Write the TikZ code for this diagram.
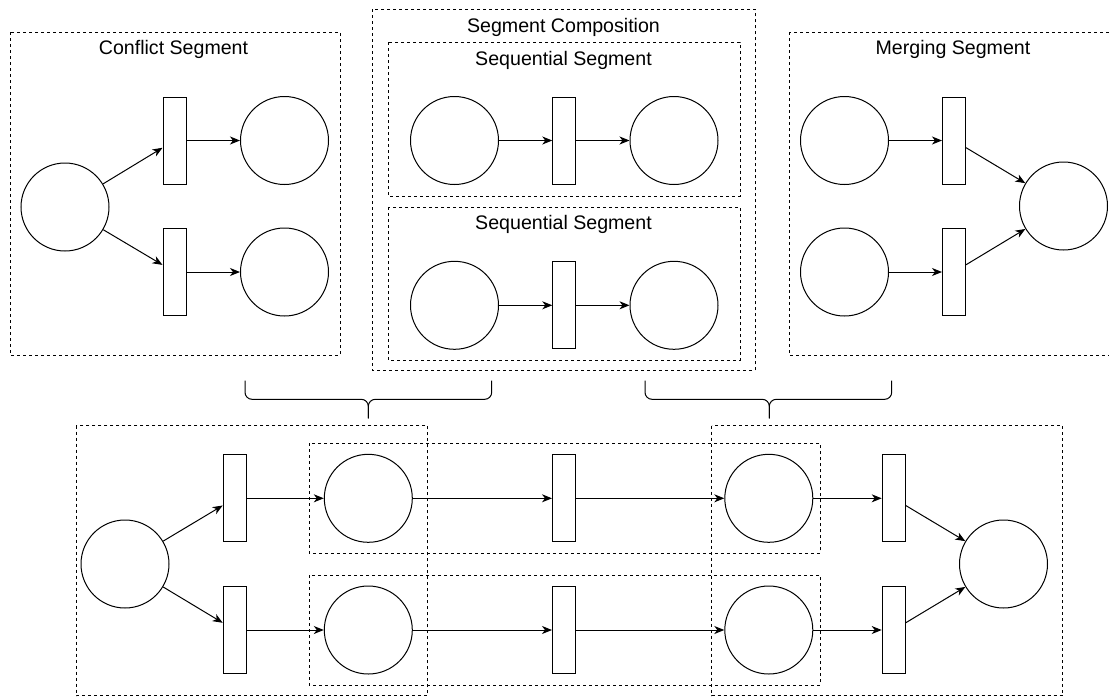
\documentclass[tikz,border=0pt]{standalone}
\usepackage{fontspec}
\setmainfont{Liberation Sans}
\usetikzlibrary{arrows.meta}
\tikzset{
  place/.style={draw, circle, fill=white, minimum size=88pt, inner sep=0pt, line width=1pt},
  trans/.style={draw, rectangle, fill=white, minimum width=23pt, minimum height=87pt, inner sep=0pt, line width=1pt},
  seg/.style={draw, dash pattern=on 3pt off 3pt, line width=0.9pt},
  arc/.style={-{Stealth[length=10pt,width=8pt,inset=3pt]}, line width=1pt},
  title/.style={anchor=base, inner sep=0pt, font=\fontsize{19.6}{22}\selectfont},
  brace/.style={line width=1pt, rounded corners=7pt}
}
\begin{document}
\begin{tikzpicture}[x=1pt,y=-1pt]
\useasboundingbox (0,0) rectangle (1109,697);

% ---- dashed segment boxes ----
\draw[seg] (10,32) rectangle (340,355);
\draw[seg] (372.7,9.3) rectangle (755,370.7);
\draw[seg] (388,42) rectangle (740,196);
\draw[seg] (388,207) rectangle (740,360);
\draw[seg] (789.3,32) rectangle (1115,355);
\draw[seg] (76,425.7) rectangle (427.7,695.7);
\draw[seg] (711.7,425.7) rectangle (1062.7,695.7);
\draw[seg] (309,443.3) rectangle (820,553.3);
\draw[seg] (309,575) rectangle (820,685);

% ---- titles ----
\node[title] (tConf) at (173.5,54) {Conflict Segment};
\node[title] (tComp) at (563.5,32.3) {Segment Composition};
\node[title] (tSeq1) at (563.5,65) {Sequential Segment};
\node[title] (tSeq2) at (563.5,229.3) {Sequential Segment};
\node[title] (tMerg) at (953,54) {Merging Segment};

% ---- conflict segment ----
\node[place] (c1) at (65,207) {};
\node[trans] (t1) at (174.5,140.5) {};
\node[trans] (t2) at (174.5,272) {};
\node[place] (c2) at (284.5,140.5) {};
\node[place] (c3) at (284.5,272) {};
\draw[arc] (c1) -- (t1);
\draw[arc] (c1) -- (t2);
\draw[arc] (t1) -- (c2);
\draw[arc] (t2) -- (c3);

% ---- sequential segments ----
\node[place] (s1a) at (454.5,140.5) {};
\node[trans] (st1) at (564.3,140.5) {};
\node[place] (s1b) at (674,140.5) {};
\node[place] (s2a) at (454.5,305.3) {};
\node[trans] (st2) at (564.3,305.3) {};
\node[place] (s2b) at (674,305.3) {};
\draw[arc] (s1a) -- (st1);
\draw[arc] (st1) -- (s1b);
\draw[arc] (s2a) -- (st2);
\draw[arc] (st2) -- (s2b);

% ---- merging segment ----
\node[place] (m1) at (844.5,140.5) {};
\node[place] (m2) at (844.5,272) {};
\node[trans] (mt1) at (954,140.5) {};
\node[trans] (mt2) at (954,272) {};
\node[place] (m3) at (1063.5,206) {};
\draw[arc] (m1) -- (mt1);
\draw[arc] (m2) -- (mt2);
\draw[arc] (mt1) -- (m3);
\draw[arc] (mt2) -- (m3);

% ---- braces ----
\coordinate (bl1) at (245,380.7);
\coordinate (bl2) at (491.7,380.7);
\coordinate (blm) at (368.3,399.3);
\coordinate (blt) at (368.3,418.3);
\draw[brace] (bl1) |- (blm) -- (blt);
\draw[brace] (bl2) |- (blm) -- (blt);
\coordinate (br1) at (645,380.7);
\coordinate (br2) at (891.7,380.7);
\coordinate (brm) at (769.3,399.3);
\coordinate (brt) at (769.3,418.3);
\draw[brace] (br1) |- (brm) -- (brt);
\draw[brace] (br2) |- (brm) -- (brt);

% ---- composed net ----
\node[place] (b1) at (125,564) {};
\node[trans] (bt1) at (234.7,498.3) {};
\node[trans] (bt2) at (234.7,630) {};
\node[place] (b2) at (368.3,498.3) {};
\node[place] (b3) at (368.3,630) {};
\node[trans] (bt3) at (564,498.3) {};
\node[trans] (bt4) at (564,630) {};
\node[place] (b4) at (768.8,498.3) {};
\node[place] (b5) at (768.8,630) {};
\node[trans] (bt5) at (893.7,498.3) {};
\node[trans] (bt6) at (893.7,630) {};
\node[place] (b6) at (1003.5,564) {};
\draw[arc] (b1) -- (bt1);
\draw[arc] (b1) -- (bt2);
\draw[arc] (bt1) -- (b2);
\draw[arc] (bt2) -- (b3);
\draw[arc] (b2) -- (bt3);
\draw[arc] (b3) -- (bt4);
\draw[arc] (bt3) -- (b4);
\draw[arc] (bt4) -- (b5);
\draw[arc] (b4) -- (bt5);
\draw[arc] (b5) -- (bt6);
\draw[arc] (bt5) -- (b6);
\draw[arc] (bt6) -- (b6);
\end{tikzpicture}
\end{document}
